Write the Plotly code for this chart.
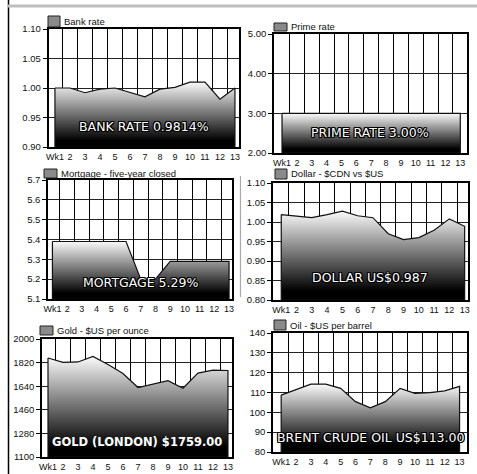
import plotly.graph_objects as go

W, H = 477, 474

weeks = ["Wk1", "2", "3", "4", "5", "6", "7", "8", "9", "10", "11", "12", "13"]

bank_rate = [1.00, 1.00, 0.992, 0.998, 1.00, 0.993, 0.985, 0.998, 1.001, 1.01, 1.01, 0.981, 1.00]
prime_rate = [3.00, 3.00, 3.00, 3.00, 3.00, 3.00, 3.00, 3.00, 3.00, 3.00, 3.00, 3.00, 3.00]
mortgage = [5.39, 5.39, 5.39, 5.39, 5.39, 5.39, 5.20, 5.20, 5.29, 5.29, 5.29, 5.29, 5.29]
dollar = [1.019, 1.015, 1.011, 1.019, 1.028, 1.016, 1.011, 0.970, 0.955, 0.960, 0.979, 1.008, 0.989]
gold = [1855, 1822, 1825, 1867, 1805, 1737, 1630, 1655, 1682, 1625, 1740, 1762, 1760]
oil = [108.7, 111.3, 114.2, 114.2, 112.1, 105.4, 102.3, 105.4, 112.1, 109.6, 109.9, 110.8, 113.1]

series_names = ["Bank rate", "Prime rate", "Mortgage - five-year closed",
                "Dollar - $CDN vs $US", "Gold - $US per ounce", "Oil - $US per barrel"]
headline_labels = ["BANK RATE 0.9814%", "PRIME RATE 3.00%", "MORTGAGE 5.29%",
                   "DOLLAR US$0.987", "GOLD (LONDON) $1759.00", "BRENT CRUDE OIL US$113.00"]

y_ticks_bank = [0.90, 0.95, 1.00, 1.05, 1.10]
y_ticks_prime = [2.00, 3.00, 4.00, 5.00]
y_ticks_mortgage = [5.1, 5.2, 5.3, 5.4, 5.5, 5.6, 5.7]
y_ticks_dollar = [0.80, 0.85, 0.90, 0.95, 1.00, 1.05, 1.10]
y_ticks_gold = [1100, 1280, 1460, 1640, 1820, 2000]
y_ticks_oil = [80, 90, 100, 110, 120, 130, 140]

series_values = [bank_rate, prime_rate, mortgage, dollar, gold, oil]
series_ticks = [y_ticks_bank, y_ticks_prime, y_ticks_mortgage, y_ticks_dollar, y_ticks_gold, y_ticks_oil]

# layout (pixels): plot box left, right, top, bottom; x range; tick format; label offset; bold
layout_boxes = [
    dict(l=48.5, r=239, t=29, b=147, xr=[-0.43, 12.27], fmt=".2f", lab=0.17, bold=False, leg=(48, 16, 60, 27)),
    dict(l=274, r=467, t=34, b=153, xr=[-0.54, 12.45], fmt=".2f", lab=0.175, bold=False, leg=(274, 23, 287, 31)),
    dict(l=48, r=232, t=180, b=299, xr=[-0.3, 12.2], fmt=".1f", lab=0.135, bold=False, leg=(44, 169, 57, 178)),
    dict(l=273, r=468, t=183, b=300, xr=[-0.54, 12.22], fmt=".2f", lab=0.19, bold=False, leg=(275, 169, 287, 179)),
    dict(l=42, r=232, t=339, b=457, xr=[-0.4, 12.27], fmt="d", lab=0.127, bold=True, leg=(40, 326, 53, 335)),
    dict(l=273, r=467, t=333, b=452, xr=[-0.55, 12.5], fmt="d", lab=0.126, bold=False, leg=(274, 320, 286, 330)),
]

tick_font = dict(family="Liberation Sans Narrow, Liberation Sans, sans-serif", size=9.5, color="#111")
xtick_font = dict(family="Liberation Sans Narrow, Liberation Sans, sans-serif", size=9, color="#111")
outline = ("1px 1px 0 #000, -1px -1px 0 #000, 1px -1px 0 #000, -1px 1px 0 #000, "
           "0 1px 0 #000, 0 -1px 0 #000, 1px 0 0 #000, -1px 0 0 #000")

fig = go.Figure()
shapes = []
annotations = []
layout_kw = {}

for i, (vals, ticks, box) in enumerate(zip(series_values, series_ticks, layout_boxes)):
    n = "" if i == 0 else str(i + 1)
    xa, ya = "x" + n, "y" + n
    ymin, ymax = ticks[0], ticks[-1]
    xs = weeks + [weeks[-1], weeks[0], weeks[0]]
    ys = vals + [ymin, ymin, vals[0]]
    fig.add_trace(go.Scatter(
        x=xs, y=ys, xaxis=xa, yaxis=ya, mode="lines", fill="toself",
        line=dict(color="#111", width=1.2),
        fillgradient=dict(type="vertical",
                          colorscale=[[0, "#000"], [0.1, "#000"], [1, "#fbfbfb"]]),
        hoverinfo="skip", showlegend=False,
    ))
    x0, x1 = box["l"] / W, box["r"] / W
    y0, y1 = 1 - box["b"] / H, 1 - box["t"] / H
    layout_kw["xaxis" + n] = dict(
        domain=[x0, x1], anchor=ya, type="category", categoryorder="array",
        categoryarray=weeks, range=box["xr"], tickson="boundaries",
        showgrid=True, gridcolor="#000", gridwidth=1,
        showline=True, linecolor="#000", linewidth=1.5, mirror=True,
        ticks="", ticklen=0, tickfont=xtick_font, zeroline=False,
        tickangle=0, automargin=False,
    )
    layout_kw["yaxis" + n] = dict(
        domain=[y0, y1], anchor=xa, range=[ymin, ymax], tickvals=ticks,
        tickformat=box["fmt"], showgrid=True, gridcolor="#222", gridwidth=1.3,
        showline=True, linecolor="#000", linewidth=1.5, mirror=True,
        ticks="outside", ticklen=4, tickcolor="#000", tickfont=tick_font,
        zeroline=False, automargin=False,
    )
    # headline label
    if box["bold"]:
        font = dict(family="DejaVu Sans", size=11.5, color="white", weight="bold")
    else:
        font = dict(family="DejaVu Sans", size=12.5, color="white", shadow=outline)
    annotations.append(dict(
        text=headline_labels[i], xref="paper", yref="paper",
        x=(x0 + x1) / 2, y=y0 + box["lab"] * (y1 - y0),
        xanchor="center", yanchor="middle", showarrow=False, font=font,
    ))
    # legend swatch + text
    lx0, ly0, lx1, ly1 = box["leg"]
    shapes.append(dict(type="rect", xref="paper", yref="paper",
                       x0=lx0 / W, x1=lx1 / W, y0=1 - ly1 / H, y1=1 - ly0 / H,
                       fillcolor="#8a8a8a", line=dict(color="#222", width=1)))
    annotations.append(dict(
        text=series_names[i], xref="paper", yref="paper",
        x=(lx1 + 1.5) / W, y=1 - (ly0 + ly1) / 2 / H,
        xanchor="left", yanchor="middle", showarrow=False,
        font=dict(family="Liberation Sans Narrow, Liberation Sans, sans-serif", size=9.5, color="#111"),
    ))

# frame decorations
shapes.append(dict(type="line", xref="paper", yref="paper", x0=8.5 / W, x1=8.5 / W, y0=0, y1=1,
                   line=dict(color="#000", width=1.5)))
shapes.append(dict(type="line", xref="paper", yref="paper", x0=8 / W, x1=1, y0=1 - 6 / H, y1=1 - 6 / H,
                   line=dict(color="#bdbdbd", width=3)))
shapes.append(dict(type="line", xref="paper", yref="paper", x0=240.5 / W, x1=240.5 / W,
                   y0=1 - 297 / H, y1=1 - 176 / H, line=dict(color="#aaa", width=1.2)))

fig.update_layout(
    width=W, height=H, margin=dict(l=0, r=0, t=0, b=0),
    paper_bgcolor="white", plot_bgcolor="white",
    shapes=shapes, annotations=annotations, showlegend=False,
    **layout_kw,
)

fig.write_html("out.html")
